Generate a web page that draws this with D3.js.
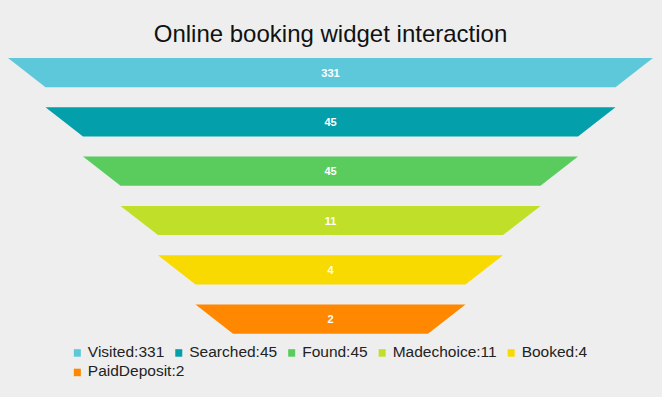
<!DOCTYPE html>
<html>
<head>
<meta charset="utf-8">
<script src="https://cdn.jsdelivr.net/npm/d3@7"></script>
<style>
  html, body { margin: 0; padding: 0; background: #eeeeee; }
  svg { display: block; }
</style>
</head>
<body>
<div id="chart"></div>
<script>
const stages = ["Visited", "Searched", "Found", "Madechoice", "Booked", "PaidDeposit"];
const counts = [331, 45, 45, 11, 4, 2];
const stageColours = ["#5ec8db", "#039fab", "#59cc5d", "#c0df28", "#f8da00", "#ff8800"];
const chartTitle = "Online booking widget interaction";

const sizes = {
  width: 662,
  height: 397,
  funnel: {top: 58, bottom: 333.7, topWidth: 645, bottomWidth: 195, cx: 330.5},
  legend: {top: 356.7, rowHeight: 19.5, maxWidth: 560}
};
const FONT = "'Liberation Sans', Arial, Helvetica, sans-serif";

const svgSetup = (dom) => {
  dom.selectAll("*").remove();
  return dom.append("svg")
    .attr("width", sizes.width)
    .attr("height", sizes.height)
    .attr("viewBox", `0 0 ${sizes.width} ${sizes.height}`);
}

const title = (svg, text) => {
  svg.append("text")
    .text(text)
    .attr("x", sizes.funnel.cx)
    .attr("y", 42)
    .style("text-anchor", "middle")
    .style("font-size", "24px")
    .style("font-family", FONT)
    .style("fill", "#111");
}

const funnel = (svg) => {
  const f = sizes.funnel;
  // each stage gets a band, gaps between them
  const y = d3.scaleBand()
    .domain(stages)
    .range([f.top, f.bottom])
    .paddingInner(0.408)
    .paddingOuter(0);
  // width narrows step by step, one step per stage
  const w = d3.scaleLinear()
    .domain([0, stages.length])
    .range([f.topWidth, f.bottomWidth]);

  const g = svg.append("g");
  stages.forEach((stage, i) => {
    const y0 = y(stage), y1 = y0 + y.bandwidth();
    const wTop = w(i), wBot = w(i + 1);
    g.append("path")
      .attr("d", `M ${f.cx - wTop/2} ${y0} L ${f.cx + wTop/2} ${y0} L ${f.cx + wBot/2} ${y1} L ${f.cx - wBot/2} ${y1} Z`)
      .style("fill", stageColours[i]);
    g.append("text")
      .text(counts[i])
      .attr("x", f.cx)
      .attr("y", y0 + y.bandwidth()/2 + 4)
      .style("text-anchor", "middle")
      .style("font-size", "11px")
      .style("font-weight", "bold")
      .style("font-family", FONT)
      .style("fill", "#fff");
  });
}

const legend = (svg) => {
  const L = sizes.legend;
  const g = svg.append("g");
  const items = stages.map((stage, i) => {
    const item = g.append("g");
    item.append("rect")
      .attr("width", 7)
      .attr("height", 7.5)
      .attr("y", -7.5)
      .style("fill", stageColours[i]);
    const t = item.append("text")
      .text(`${stage}:${counts[i]}`)
      .attr("x", 14)
      .style("font-size", "15.5px")
      .style("font-family", FONT)
      .style("fill", "#222");
    return {node: item, width: 14 + t.node().getComputedTextLength()};
  });

  // wrap into rows
  const rows = [[]];
  let rowW = 0;
  items.forEach((it) => {
    const add = (rows[rows.length-1].length ? 11 : 0) + it.width;
    if (rowW + add > L.maxWidth && rows[rows.length-1].length) {
      rows.push([it]);
      rowW = it.width;
    } else {
      rows[rows.length-1].push(it);
      rowW += add;
    }
  });
  const widths = rows.map((r) => d3.sum(r, (d) => d.width) + 11 * (r.length - 1));
  const left = sizes.funnel.cx - d3.max(widths) / 2;
  rows.forEach((r, ri) => {
    let x = left;
    r.forEach((it) => {
      it.node.attr("transform", `translate(${x},${L.top + ri * L.rowHeight})`);
      x += it.width + 11;
    });
  });
}

const svg = svgSetup(d3.select("#chart"));
svg.append("rect")
  .attr("width", sizes.width)
  .attr("height", sizes.height)
  .style("fill", "#eeeeee");
title(svg, chartTitle);
funnel(svg);
legend(svg);
</script>
</body>
</html>
